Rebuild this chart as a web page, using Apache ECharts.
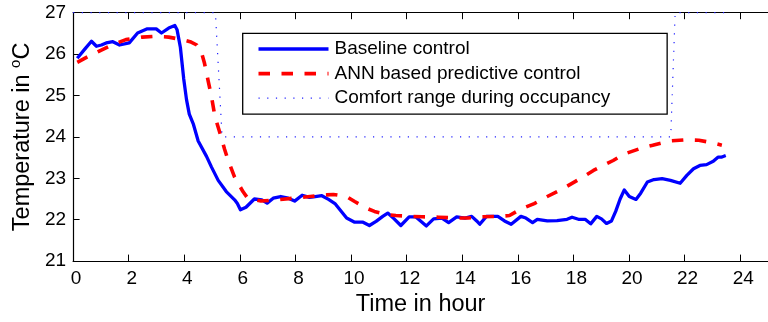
<!DOCTYPE html>
<html><head><meta charset="utf-8">
<script src="https://cdn.jsdelivr.net/npm/echarts@6/dist/echarts.min.js"></script>
<style>html,body{margin:0;padding:0;background:#fff}#c{width:768px;height:322px}</style>
</head><body><div id="c"></div><script>
const seriesNames = ['Baseline control', 'ANN based predictive control', 'Comfort range during occupancy'];
const xTickLabels = ['0','2','4','6','8','10','12','14','16','18','20','22','24'];
const yTickLabels = ['21','22','23','24','25','26','27'];

const baselineHours = [0.15,0.42,0.66,0.84,1.02,1.19,1.43,1.67,2.02,2.32,2.67,2.99,3.18,3.44,3.66,3.74,3.86,3.98,4.08,4.18,4.33,4.50,4.80,4.98,5.22,5.51,5.81,5.91,6.02,6.22,6.52,6.79,6.98,7.20,7.47,7.74,7.97,8.24,8.50,8.65,8.95,9.19,9.42,9.60,9.84,10.13,10.43,10.66,10.90,11.14,11.32,11.55,11.79,12.09,12.32,12.50,12.71,12.97,13.27,13.51,13.80,14.10,14.34,14.52,14.63,14.87,15.28,15.52,15.76,16.11,16.29,16.53,16.70,17.06,17.41,17.77,17.95,18.18,18.42,18.62,18.84,19.01,19.19,19.37,19.52,19.68,19.83,20.01,20.25,20.42,20.66,20.90,21.19,21.49,21.84,22.08,22.32,22.55,22.79,23.03,23.20,23.32,23.48];
const baselineTemp = [25.90,26.12,26.31,26.19,26.22,26.27,26.30,26.22,26.27,26.51,26.61,26.61,26.51,26.63,26.69,26.59,26.16,25.40,24.90,24.55,24.30,23.90,23.53,23.27,22.95,22.68,22.48,22.39,22.24,22.30,22.50,22.48,22.40,22.52,22.56,22.52,22.45,22.59,22.54,22.55,22.58,22.49,22.39,22.24,22.04,21.94,21.94,21.86,21.96,22.08,22.16,22.02,21.86,22.07,22.07,21.97,21.85,22.02,22.04,21.93,22.07,22.04,22.08,21.97,21.89,22.08,22.08,21.97,21.89,22.08,22.04,21.93,22.01,21.97,21.98,22.01,22.06,22.01,22.01,21.90,22.08,22.02,21.91,21.97,22.20,22.50,22.72,22.56,22.49,22.64,22.91,22.97,22.99,22.95,22.88,23.07,23.23,23.31,23.33,23.41,23.51,23.51,23.55];

const annHours = [0.15,0.48,0.96,1.43,1.90,2.49,2.97,3.44,3.91,4.21,4.45,4.60,4.72,4.86,4.98,5.10,5.28,5.45,5.57,5.81,6.11,6.28,6.76,7.35,7.94,8.53,9.13,9.36,9.84,10.13,10.55,10.84,11.32,11.61,12.15,12.56,13.15,13.86,14.22,14.69,15.28,15.70,16.11,16.59,17.06,17.65,18.24,18.72,19.19,19.43,19.84,20.49,20.85,21.44,22.03,22.51,22.98,23.34];
const annTemp = [25.80,25.92,26.08,26.23,26.35,26.41,26.43,26.41,26.35,26.30,26.22,26.08,25.80,25.35,24.97,24.50,24.10,23.70,23.45,23.03,22.68,22.52,22.45,22.48,22.52,22.56,22.60,22.61,22.56,22.44,22.28,22.20,22.12,22.10,22.08,22.07,22.06,22.04,22.04,22.07,22.08,22.10,22.26,22.39,22.56,22.76,22.99,23.19,23.35,23.43,23.59,23.74,23.80,23.90,23.93,23.92,23.86,23.80];

const comfortHours = [0, 5.12, 5.36, 21.5, 21.66, 23.5];
const comfortTemp = [27, 27, 24, 24, 27, 27];

const zip = (a, b) => a.map((v, i) => [v, b[i]]);
const FONT = '"Liberation Sans", Arial, Helvetica, sans-serif';

const chart = echarts.init(document.getElementById('c'), null, {renderer: 'canvas'});
const axisCommon = {
  axisLine: {show: true, lineStyle: {color: '#000', width: 1.2}},
  axisTick: {show: true, inside: true, length: 6.5, lineStyle: {color: '#000', width: 1}},
  splitLine: {show: false}
};
chart.setOption({
  animation: false,
  backgroundColor: '#fff',
  grid: {left: 73.1, top: 12.7, right: -8.9, bottom: 56.3, containLabel: false},
  legend: {
    orient: 'vertical', left: 242.7, top: 33.3,
    data: seriesNames,
    itemWidth: 70, itemHeight: 14, itemGap: 4.6,
    padding: [5.7, 57, 6, 14],
    borderColor: '#000', borderWidth: 1.3, backgroundColor: '#fff', borderRadius: 0,
    itemStyle: {opacity: 0},
    lineStyle: {width: 'inherit'},
    textStyle: {fontSize: 19, color: '#000', fontFamily: FONT, lineHeight: 20, padding: [0, 0, 0, 1]}
  },
  xAxis: [
    Object.assign({}, axisCommon, {
      type: 'value', position: 'bottom', min: 0, max: 25, interval: 2,
      axisLabel: {fontSize: 19, color: '#000', fontFamily: FONT, margin: 8, showMaxLabel: false,
        padding: [0, 0, 0, 6],
        formatter: v => xTickLabels[v / 2] !== undefined ? xTickLabels[v / 2] : ''},
      name: 'Time in hour', nameLocation: 'middle', nameGap: 29,
      nameTextStyle: {fontSize: 23.5, color: '#000', fontFamily: FONT}
    }),
    Object.assign({}, axisCommon, {
      type: 'value', position: 'top', min: 0, max: 25, interval: 2,
      axisLabel: {show: false}
    })
  ],
  yAxis: [
    Object.assign({}, axisCommon, {
      type: 'value', min: 21, max: 27, interval: 1,
      axisLabel: {fontSize: 19, color: '#000', fontFamily: FONT, margin: 7,
        formatter: v => yTickLabels[v - 21] !== undefined ? yTickLabels[v - 21] : ''},
      name: '{t|Temperature in }{s|o}{t|C}', nameLocation: 'middle', nameRotate: 90, nameGap: 30,
      nameTextStyle: {
        color: '#000', fontFamily: FONT, fontSize: 23.5,
        rich: {
          t: {fontSize: 23.5, color: '#000', fontFamily: FONT, lineHeight: 28},
          s: {fontSize: 15, color: '#000', fontFamily: FONT, verticalAlign: 'top', lineHeight: 15}
        }
      }
    })
  ],
  series: [
    {name: seriesNames[0], type: 'line', data: zip(baselineHours, baselineTemp), symbol: 'none', showSymbol: false,
     lineStyle: {color: '#0000ff', width: 3.3, join: 'round'}, itemStyle: {color: '#0000ff'}},
    {name: seriesNames[1], type: 'line', data: zip(annHours, annTemp), symbol: 'none', showSymbol: false,
     lineStyle: {color: '#ff0000', width: 3.6, type: [11.5, 11.5], cap: 'butt'}, itemStyle: {color: '#ff0000'}},
    {name: seriesNames[2], type: 'line', data: zip(comfortHours, comfortTemp), symbol: 'none', showSymbol: false,
     lineStyle: {color: '#2020ff', width: 1.2, type: [1.2, 7.5]}, itemStyle: {color: '#2020ff'}}
  ]
});
</script></body></html>
